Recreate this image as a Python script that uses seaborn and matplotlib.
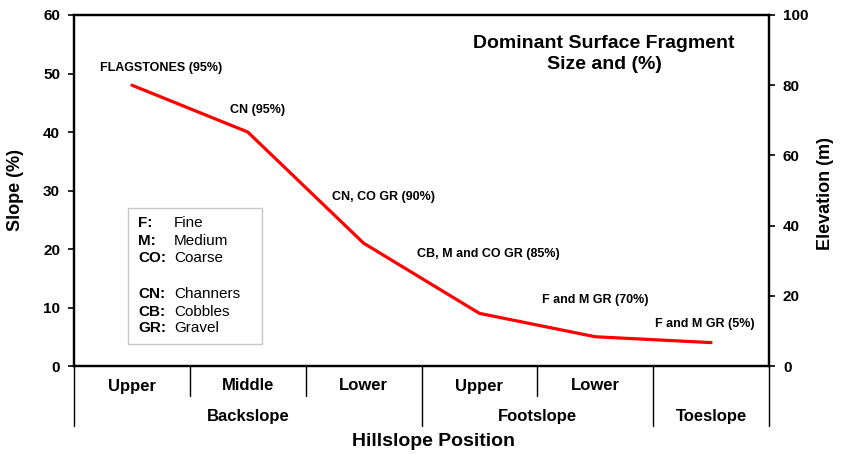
import matplotlib
matplotlib.use("Agg")
import matplotlib.pyplot as plt
import seaborn as sns
import pandas as pd
from matplotlib.patches import Rectangle

# ---- data ----
positions = ["Upper", "Middle", "Lower", "Upper", "Lower", ""]
groups = ["Backslope", "Footslope", "Toeslope"]
slope = [48, 40, 21, 9, 5, 4]
fragments = ["FLAGSTONES (95%)", "CN (95%)", "CN, CO GR (90%)",
             "CB, M and CO GR (85%)", "F and M GR (70%)", "F and M GR (5%)"]
legend_abbr = ["F:", "M:", "CO:", "", "CN:", "CB:", "GR:"]
legend_word = ["Fine", "Medium", "Coarse", "", "Channers", "Cobbles", "Gravel"]

sns.set_theme(style="white")
plt.rcParams["font.family"] = ["Liberation Sans", "DejaVu Sans"]
plt.rcParams["text.color"] = "black"
plt.rcParams["axes.labelcolor"] = "black"
plt.rcParams["xtick.color"] = "black"
plt.rcParams["ytick.color"] = "black"

W, H = 842, 454
fig = plt.figure(figsize=(W / 100, H / 100), dpi=100)
L, R, T, B = 74, 769, 15, 366
ax = fig.add_axes([L / W, 1 - B / H, (R - L) / W, (B - T) / H])

df = pd.DataFrame({"x": range(len(slope)), "slope": slope})
sns.lineplot(data=df, x="x", y="slope", ax=ax, color="#ff0000", linewidth=2.3)

ax.set_xlim(-0.5, 5.5)
ax.set_ylim(0, 60)
ax.set_yticks(range(0, 61, 10))
ax.set_xticks([])
ax.set_xlabel("")
ax.set_ylabel("")
for s in ax.spines.values():
    s.set_visible(True)
    s.set_color("black")
    s.set_linewidth(1.6)
ax.tick_params(axis="y", direction="out", length=4, width=1.2, pad=6,
               labelsize=11, left=True, colors="black")
for lab in ax.get_yticklabels():
    lab.set_fontweight("bold")

ax2 = ax.twinx()
ax2.set_ylim(0, 100)
ax2.set_yticks(range(0, 101, 20))
ax2.tick_params(axis="y", direction="out", length=4, width=1.2, pad=6,
                labelsize=11, right=True, colors="black")
for lab in ax2.get_yticklabels():
    lab.set_fontweight("bold")
for s in ax2.spines.values():
    s.set_color("black")
    s.set_linewidth(1.6)

# annotation labels
label_pos = [(161, 68), (258, 110), (383, 197), (488, 254), (595, 300), (705, 324)]
for txt, (px, py) in zip(fragments, label_pos):
    fig.text(px / W, 1 - py / H, txt, ha="center", va="center",
             fontsize=9, fontweight="bold", color="black")

# title
fig.text(604 / W, 1 - 54 / H, "Dominant Surface Fragment\nSize and (%)",
         ha="center", va="center", fontsize=14, fontweight="bold",
         linespacing=1.25, color="black")

# legend box
fig.patches.append(Rectangle((128 / W, 1 - 344 / H), (262 - 128) / W, (344 - 208) / H,
                             transform=fig.transFigure, facecolor="white",
                             edgecolor="#c8c8c8", linewidth=1.0))
rows_y = [223, 241, 258, 276, 294, 311.5, 328.5]
for a, w, yy in zip(legend_abbr, legend_word, rows_y):
    if not a:
        continue
    fig.text(138 / W, 1 - yy / H, a, ha="left", va="center", fontsize=11,
             fontweight="bold", color="black")
    fig.text(174 / W, 1 - yy / H, w, ha="left", va="center", fontsize=11,
             color="black")

# category axis below
xt = ax.get_xaxis_transform()
short_h = 30 / (B - T)
long_h = 60 / (B - T)
boundaries = [-0.5, 0.5, 1.5, 2.5, 3.5, 4.5, 5.5]
group_edges = {-0.5, 2.5, 4.5, 5.5}
for bx in boundaries:
    h = long_h if bx in group_edges else short_h
    ax.plot([bx, bx], [0, -h], transform=xt, color="black", linewidth=1.0,
            clip_on=False)
for i, p in enumerate(positions):
    if p:
        ax.text(i, -20 / (B - T), p, transform=xt, ha="center", va="center",
                fontsize=12, fontweight="bold", color="black")
group_centers = [1, 3.5, 5]
for g, c in zip(groups, group_centers):
    ax.text(c, -50.5 / (B - T), g, transform=xt, ha="center", va="center",
            fontsize=12, fontweight="bold", color="black")

fig.text(433 / W, 1 - 441 / H, "Hillslope Position", ha="center", va="center",
         fontsize=14, fontweight="bold", color="black")
fig.text(16 / W, 1 - 190 / H, "Slope (%)", rotation=90, ha="center", va="center",
         fontsize=13, fontweight="bold", color="black")
fig.text(825 / W, 1 - 193 / H, "Elevation (m)", rotation=90, ha="center",
         va="center", fontsize=13, fontweight="bold", color="black")

fig.savefig("out.png", dpi=100, facecolor="white")
